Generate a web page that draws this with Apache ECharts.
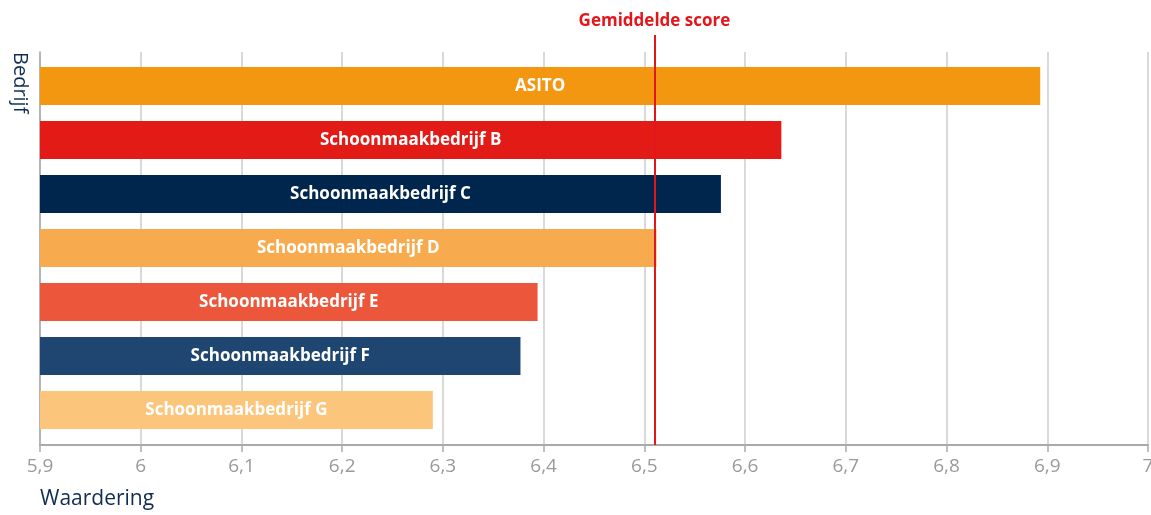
<!DOCTYPE html>
<html>
<head>
<meta charset="utf-8">
<script src="https://cdn.jsdelivr.net/npm/echarts@6/dist/echarts.min.js"></script>
<style>html,body{margin:0;padding:0;background:#fff}#c{width:1151px;height:515px}</style>
</head>
<body>
<div id="c"></div>
<script>
const categories = ['ASITO','Schoonmaakbedrijf B','Schoonmaakbedrijf C','Schoonmaakbedrijf D','Schoonmaakbedrijf E','Schoonmaakbedrijf F','Schoonmaakbedrijf G'];
const scores = [6.893, 6.636, 6.576, 6.512, 6.394, 6.377, 6.290];
const barColors = ['#F39711','#E31B17','#00264D','#F8AB4E','#EC573B','#1F4571','#FCC57C'];
const averageScore = 6.514;
const xMin = 5.9, xMax = 7.0, xStep = 0.1;
const averageLabel = 'Gemiddelde score';
const xAxisName = 'Waardering';
const yAxisName = 'Bedrijf';

const font = '"Open Sans", "Noto Sans", sans-serif';
const chart = echarts.init(document.getElementById('c'), null, {renderer: 'canvas'});
const fmt = v => String(+(+v).toFixed(1)).replace('.', ',');

chart.setOption({
  animation: false,
  grid: [
    {left: 40, right: 3, top: 59, height: 378, outerBoundsMode: 'none', containLabel: false},
    {left: 40, right: 3, top: 52, bottom: 70, outerBoundsMode: 'none', containLabel: false},
    {left: 40, right: 3, top: 35, bottom: 70, outerBoundsMode: 'none', containLabel: false}
  ],
  xAxis: [
    {gridIndex: 0, type: 'value', min: xMin, max: xMax, show: false},
    {gridIndex: 1, type: 'value', min: xMin, max: xMax, interval: xStep,
      axisLine: {show: true, lineStyle: {color: '#aaaaaa', width: 2}},
      axisTick: {show: true, length: 7, lineStyle: {color: '#aaaaaa', width: 1.5}},
      splitLine: {show: true, lineStyle: {color: '#cccccc', width: 1.5}},
      axisLabel: {color: '#9a9a9a', fontSize: 19, fontFamily: font, margin: 12, formatter: fmt}
    },
    {gridIndex: 2, type: 'value', min: xMin, max: xMax, show: false}
  ],
  yAxis: [
    {gridIndex: 0, type: 'category', data: categories, inverse: true, show: false},
    {gridIndex: 1, type: 'value', min: 0, max: 1,
      axisLine: {show: true, lineStyle: {color: '#aaaaaa', width: 1.5}},
      axisTick: {show: false}, axisLabel: {show: false}, splitLine: {show: false}},
    {gridIndex: 2, type: 'value', min: 0, max: 1, show: false}
  ],
  series: [
    {
      type: 'bar', xAxisIndex: 0, yAxisIndex: 0, barWidth: 38,
      data: scores.map((v, i) => ({value: v, itemStyle: {color: barColors[i]}})),
      label: {show: true, position: 'inside', formatter: '{b}', color: '#ffffff',
        fontWeight: 'bold', fontSize: 17, fontFamily: font}
    },
    {
      type: 'line', xAxisIndex: 2, yAxisIndex: 2, data: [],
      markLine: {
        silent: true, symbol: 'none',
        lineStyle: {color: '#E3161B', width: 2, type: 'solid'},
        label: {show: true, position: 'end', formatter: averageLabel, color: '#E3161B',
          fontWeight: 'bold', fontSize: 17, fontFamily: font, distance: 5},
        data: [{xAxis: averageScore}]
      }
    }
  ],
  graphic: [
    {type: 'text', left: 40, top: 489, style: {text: xAxisName, fill: '#0F2D52', font: '21px ' + font}},
    {type: 'text', x: 30, y: 52, rotation: -Math.PI / 2,
      style: {text: yAxisName, fill: '#0F2D52', font: '20px ' + font, textAlign: 'left', textVerticalAlign: 'top'}}
  ]
});
</script>
</body>
</html>
